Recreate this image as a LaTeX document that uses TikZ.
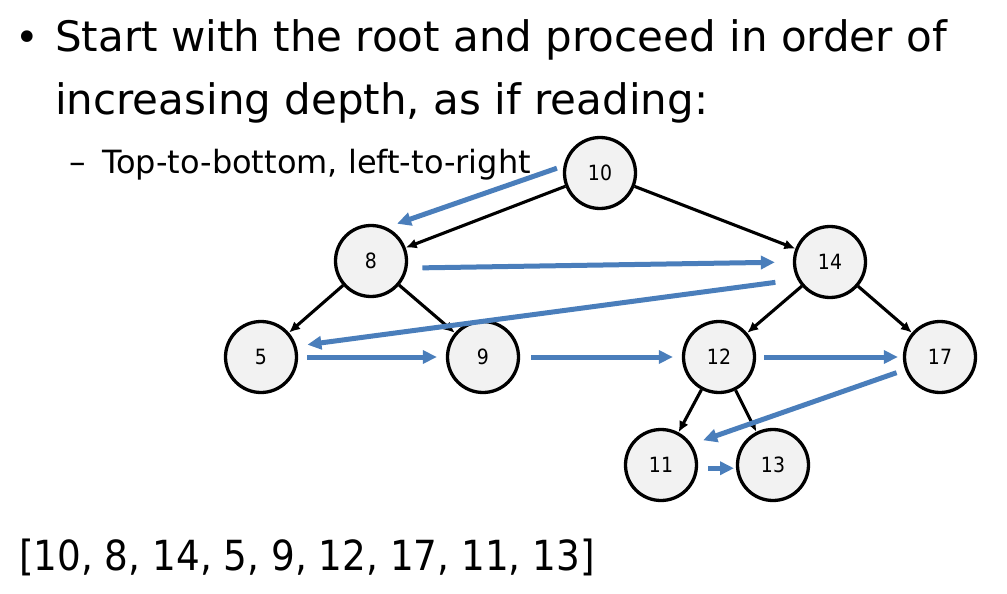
\documentclass[tikz,border=0pt]{standalone}
\usepackage{fontspec}
\setmainfont{DejaVu Sans}
\newfontfamily\numfont{DejaVu Sans}[FakeStretch=0.9]
\usepackage{tikz}
\usetikzlibrary{arrows.meta}

\definecolor{travblue}{RGB}{74,126,187}
\definecolor{nodegray}{RGB}{242,242,242}

\begin{document}
\begin{tikzpicture}[
        x=1pt, y=-1pt,
        vertex/.style={circle, draw=black, line width=3.3pt, fill=nodegray,
                       minimum size=71pt, inner sep=0pt,
                       font=\numfont\fontsize{21}{21}\selectfont},
        edge/.style={line width=3.1pt, -{Latex[length=11pt,width=10pt]}},
        trav/.style={travblue, line width=5pt, -{Triangle[length=14pt,width=13pt]}},
    ]
    \useasboundingbox (0,0) rectangle (1007,594);

    % text
    \node[anchor=base] (dot) at (27,52) {\fontsize{40}{40}\selectfont •};
    \node[anchor=base west, inner sep=0pt] (line1) at (55,52)
        {\fontsize{42}{42}\selectfont Start with the root and proceed in order of};
    \node[anchor=base west, inner sep=0pt] (line2) at (55,114)
        {\fontsize{42}{42}\selectfont increasing depth, as if reading:};
    \node[anchor=base west, inner sep=0pt] (dash) at (69,173)
        {\fontsize{33}{33}\selectfont –};
    \node[anchor=base west, inner sep=0pt] (sub) at (102,173)
        {\fontsize{32}{32}\selectfont Top-to-bottom, left-to-right};
    \node[anchor=base west, inner sep=0pt] (order) at (19,570)
        {\numfont\fontsize{41.5}{41.5}\selectfont [10, 8, 14, 5, 9, 12, 17, 11, 13]};

    % tree
    \foreach \n/\x/\y in {10/600/173, 8/371/261, 14/830/262, 5/261/357, 9/483/357,
                          12/719/357, 17/940/357, 11/661/465, 13/773/465}
        \node[vertex] (n\n) at (\x,\y) {\n};

    \foreach \a/\b in {10/8, 10/14, 8/5, 8/9, 14/12, 14/17, 12/11, 12/13}
        \draw[edge] (n\a) -- (n\b);

    % breadth-first order
    \foreach \a/\p/\b/\q/\s/\t in {10/169/8/65/7/11, 8/-11/14/180/15/18,
                                   14/208/5/17/22/11, 5/0/9/180/9/9,
                                   9/0/12/180/11/9, 12/0/17/180/8/5,
                                   17/200/11/34/9/12, 11/-5/13/185/10/2}
        \draw[trav, shorten <=\s pt, shorten >=\t pt] (n\a.\p) -- (n\b.\q);

\end{tikzpicture}
\end{document}
